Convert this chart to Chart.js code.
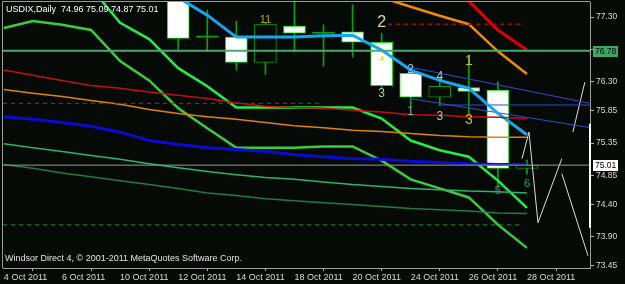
<!DOCTYPE html>
<html>
<head>
<meta charset="utf-8">
<script src="https://cdn.jsdelivr.net/npm/chart.js@4.4.1/dist/chart.umd.min.js"></script>
<style>
  html, body { margin: 0; padding: 0; background: #060a06; }
  #wrap { width: 625px; height: 284px; }
</style>
</head>
<body>
<div id="wrap"><canvas id="chart" width="625" height="284"></canvas></div>
<script>
/* USDIX Daily - MT4 style chart */

// one entry per daily bar (index = position on the x axis)
const dates = ['4 Oct 2011', '5 Oct 2011', '6 Oct 2011', '7 Oct 2011', '10 Oct 2011', '11 Oct 2011',
  '12 Oct 2011', '13 Oct 2011', '14 Oct 2011', '17 Oct 2011', '18 Oct 2011', '19 Oct 2011',
  '20 Oct 2011', '21 Oct 2011', '24 Oct 2011', '25 Oct 2011', '26 Oct 2011', '27 Oct 2011', '28 Oct 2011'];
const dateTicks = [0, 2, 4, 6, 8, 10, 12, 14, 16, 18];
const yTicks = [77.30, 76.80, 76.30, 75.85, 75.35, 74.85, 74.40, 73.90, 73.45];

// candles (earlier bars sit above the visible range)
const candleBars = [6, 7, 8, 9, 10, 11, 12, 13, 14, 15, 16, 17, 18];
const opens  = [77.75, 76.99, 76.99, 76.60, 77.16, 77.05, 77.07, 76.91, 76.43, 76.06, 76.21, 76.17, 74.96];
const highs  = [77.85, 77.41, 77.24, 77.22, 77.60, 77.18, 77.49, 77.05, 76.45, 76.36, 76.71, 76.30, 75.09];
const lows   = [76.77, 76.77, 76.48, 76.41, 76.76, 76.54, 76.68, 76.20, 75.92, 75.93, 75.78, 74.66, 74.87];
const closes = [76.97, 76.99, 76.60, 77.19, 77.05, 77.05, 76.91, 76.24, 76.06, 76.23, 76.15, 74.96, 75.01];

// indicator lines, one value per bar
const maRed    = [76.48, 76.40, 76.32, 76.24, 76.20, 76.14, 76.09, 76.04, 75.97, 75.92, 75.90, 75.89, 75.86, 75.83, 75.79, 75.78, 75.76, 75.75, 75.73];
const maOrange = [76.18, 76.12, 76.07, 76.01, 75.95, 75.87, 75.81, 75.76, 75.72, 75.67, 75.62, 75.59, 75.55, 75.53, 75.50, 75.47, 75.45, 75.44, 75.44];
const bandOrange = [null, null, null, null, null, null, null, null, null, null, null, null, null, 77.60, 77.46, 77.32, 77.19, 76.77, 76.42];
const bandRed    = [null, null, null, null, null, null, null, null, null, null, null, null, null, null, null, 77.95, 77.55, 77.10, 76.79];
const maSky   = [null, null, null, null, null, null, 77.60, 77.33, 76.99, 76.99, 76.99, 77.01, 77.02, 76.79, 76.48, 76.32, 76.20, 75.81, 75.48];
const maBlue  = [75.76, 75.72, 75.67, 75.61, 75.52, 75.39, 75.33, 75.28, 75.25, 75.22, 75.17, 75.14, 75.11, 75.10, 75.07, 75.05, 75.03, 75.02, 75.02];
const lime1   = [null, null, null, 77.75, 77.21, 76.96, 76.51, 76.23, 75.90, 75.90, 75.90, 75.90, 75.90, 75.73, 75.39, 75.24, 75.14, 74.77, 74.35];
const lime2   = [77.13, 77.24, 77.18, 77.10, 76.62, 76.32, 75.89, 75.58, 75.28, 75.28, 75.28, 75.30, 75.30, 75.08, 74.79, 74.65, 74.51, 74.09, 73.73];
const green1  = [75.34, 75.28, 75.22, 75.16, 75.10, 75.03, 74.97, 74.91, 74.86, 74.82, 74.79, 74.75, 74.71, 74.68, 74.65, 74.63, 74.61, 74.60, 74.58];
const green2  = [75.02, 74.96, 74.89, 74.83, 74.77, 74.71, 74.65, 74.58, 74.54, 74.49, 74.46, 74.43, 74.40, 74.37, 74.34, 74.32, 74.30, 74.27, 74.26];

// drawn objects: [bar, price] pairs
const trendUpper = [[13.81, 76.54], [20.17, 75.965]];
const trendLower = [[13.98, 76.04], [20.17, 75.59]];
const trendFlat  = [[15.0, 75.94], [20.17, 75.94]];
const forecastA  = [[17.83, 75.11], [18.07, 75.52], [18.38, 74.12], [19.20, 75.11]];
const forecastB  = [[19.20, 74.88], [20.10, 73.61]];
const forecastC  = [[19.58, 75.52], [19.99, 76.29]];
const levelGreen = [[-0.03, 76.78], [20.17, 76.78]];
const levelBid   = [[-0.03, 75.01], [20.17, 75.01]];
const dashRedLow = [[-0.03, 75.965], [10.9, 75.965]];
const dashRedTop = [[13.23, 77.19], [17.86, 77.19]];
const dashGreen  = [[-0.03, 74.087], [17.86, 74.087]];
const axisRange  = [75.65, 74.04];

// wave counts on the candles
const markBars   = [9, 13, 13, 13, 14, 14, 15, 15, 16, 16, 17, 18];
const markPrices = [77.25, 77.21, 76.65, 76.12, 76.49, 75.84, 76.38, 75.76, 76.62, 75.70, 74.61, 74.72];
const markTexts  = ['11', '2', '4', '3', '2', '1', '4', '3', '1', '3', '5', '6'];
const markKinds  = ['olive', 'pale', 'tiny', 'grey', 'grey', 'greyGreen', 'grey', 'grey', 'yellow', 'yellow', 'teal', 'teal'];

const FONT = "'Liberation Sans', Arial, sans-serif";
const markStyle = {
  olive:     { font: '11px ' + FONT, color: '#c0aa20' },
  pale:      { font: '16px ' + FONT, color: '#e6d98c' },
  tiny:      { font: '8px ' + FONT,  color: '#d8c800' },
  grey:      { font: '12px ' + FONT, color: '#b4c4c4' },
  greyGreen: { font: '12px ' + FONT, color: '#86b496' },
  yellow:    { font: '14px ' + FONT, color: '#d2bc10' },
  teal:      { font: '11px ' + FONT, color: '#14a878' }
};

const kind = k => closes[k] > opens[k] ? 'bull' : closes[k] < opens[k] ? 'bear' : 'doji';
const toPts = arr => arr.map((v, i) => ({ x: i, y: v }));
const toXY = arr => arr.map(p => ({ x: p[0], y: p[1] }));

function line(data, color, width, extra) {
  return Object.assign({
    type: 'line', data, borderColor: color, borderWidth: width,
    pointRadius: 0, tension: 0, fill: false, spanGaps: false, order: 1
  }, extra || {});
}

const mt4Plugin = {
  id: 'mt4',
  beforeDraw(chart) {
    const c = chart.ctx;
    c.save();
    c.fillStyle = '#060a06';
    c.fillRect(0, 0, chart.width, chart.height);
    c.restore();
  },
  afterDatasetsDraw(chart) {
    const { ctx: c, scales: { x, y }, chartArea: a } = chart;
    c.save();
    c.beginPath();
    c.rect(a.left, a.top, a.right - a.left, a.bottom - a.top);
    c.clip();
    c.textAlign = 'center';
    c.textBaseline = 'middle';
    markTexts.forEach((t, k) => {
      const st = markStyle[markKinds[k]];
      c.font = st.font;
      c.fillStyle = st.color;
      c.fillText(t, x.getPixelForValue(markBars[k]), y.getPixelForValue(markPrices[k]));
    });
    c.restore();
  },
  afterDraw(chart) {
    const { ctx: c, scales: { y }, chartArea: a } = chart;
    c.save();
    // frame left / top
    c.strokeStyle = '#9a9a9a';
    c.lineWidth = 1;
    c.beginPath();
    c.moveTo(a.left - 0.5, a.bottom);
    c.lineTo(a.left - 0.5, a.top - 0.5);
    c.lineTo(a.right, a.top - 0.5);
    c.stroke();
    // bright part of the price axis
    c.strokeStyle = '#ffffff';
    c.lineWidth = 2;
    c.beginPath();
    c.moveTo(a.right, y.getPixelForValue(axisRange[0]));
    c.lineTo(a.right, y.getPixelForValue(axisRange[1]));
    c.stroke();
    // price boxes
    c.font = '8.5px ' + FONT;
    c.textAlign = 'left';
    c.textBaseline = 'middle';
    [[levelGreen[0][1], '#3ca864'], [levelBid[0][1], '#ffffff']].forEach(([p, bg]) => {
      const py = Math.round(y.getPixelForValue(p));
      c.fillStyle = bg;
      c.fillRect(a.right + 3, py - 5, 25, 11);
      c.fillStyle = '#000000';
      c.fillText(p.toFixed(2), a.right + 5, py + 0.5);
    });
    // header and footer
    c.font = '9px ' + FONT;
    c.fillStyle = '#ffffff';
    c.fillText('USDIX,Daily  74.96 75.09 74.87 75.01', a.left + 3, 10);
    c.fillStyle = '#e4e4e4';
    c.fillText('Windsor Direct 4, \u00a9 2001-2011 MetaQuotes Software Corp.', a.left + 2, 259);
    c.restore();
  }
};

Chart.defaults.font.family = FONT;
Chart.defaults.font.size = 8.5;

new Chart(document.getElementById('chart'), {
  type: 'line',
  data: {
    datasets: [
      // candles
      {
        type: 'bar', order: 9, grouped: false, barThickness: 1,
        data: candleBars.map((b, k) => ({ x: b, y: [lows[k], highs[k]] })),
        backgroundColor: '#0aa00a', borderWidth: 0
      },
      {
        type: 'bar', order: 8, grouped: false, barThickness: 22, minBarLength: 1,
        data: candleBars.map((b, k) => ({ x: b, y: [opens[k], closes[k]] })),
        backgroundColor: ctx => ({ bull: '#060a06', bear: '#ffffff', doji: '#0aa00a' })[kind(ctx.dataIndex)],
        borderColor: ctx => kind(ctx.dataIndex) === 'bear' ? '#10e010' : '#0a9a0a',
        borderWidth: ctx => kind(ctx.dataIndex) === 'doji' ? 0 : 1,
        borderSkipped: false
      },
      // levels
      line(toXY(levelGreen), '#4aaa6e', 2),
      line(toXY(levelBid), '#9a9a9a', 1),
      line(toXY(dashRedLow), '#d01212', 1, { borderDash: [4, 4] }),
      line(toXY(dashRedTop), '#a01010', 1.5, { borderDash: [4, 4] }),
      line(toXY(dashGreen), '#1a961a', 1, { borderDash: [4, 4] }),
      // moving averages / bands
      line(toPts(green2), '#1e7a46', 1.5),
      line(toPts(green1), '#2cb468', 1.5),
      line(toPts(maRed), '#c01010', 1.5),
      line(toPts(maOrange), '#e08400', 1.5),
      line(toPts(bandOrange), '#f08c00', 2.5),
      line(toPts(bandRed), '#e00000', 3),
      line(toPts(maBlue), '#0a0ad2', 3),
      line(toPts(lime2), '#3ccc3c', 2.5),
      line(toPts(lime1), '#22ee44', 2.5),
      line(toPts(maSky), '#12a8f4', 3),
      // trend lines and forecast
      line(toXY(trendUpper), '#2a4ed6', 1),
      line(toXY(trendLower), '#2a4ed6', 1),
      line(toXY(trendFlat), '#2a4ed6', 1),
      line(toXY(forecastA), '#dcdcdc', 1),
      line(toXY(forecastB), '#dcdcdc', 1),
      line(toXY(forecastC), '#dcdcdc', 1)
    ]
  },
  options: {
    responsive: false,
    animation: false,
    events: [],
    layout: { padding: { left: 3, top: 2, right: 0, bottom: 0 } },
    plugins: { legend: { display: false }, tooltip: { enabled: false } },
    scales: {
      x: {
        type: 'linear', min: -0.03, max: 20.17, offset: false,
        afterBuildTicks: s => { s.ticks = dateTicks.map(v => ({ value: v })); },
        afterFit: s => { s.height = 16; s.paddingLeft = 0; s.paddingRight = 0; },
        ticks: {
          autoSkip: false, maxRotation: 0, align: 'start', padding: 1,
          color: '#d8d8d8', font: { size: 9 }, callback: v => dates[v]
        },
        grid: { drawOnChartArea: false, tickLength: 3, color: '#b0b0b0' },
        border: { display: true, color: '#a0a0a0' }
      },
      y: {
        position: 'right', min: 73.419, max: 77.533,
        afterBuildTicks: s => { s.ticks = yTicks.map(v => ({ value: v })); },
        afterFit: s => { s.width = 35; s.paddingTop = 0; s.paddingBottom = 0; },
        ticks: { padding: 2, color: '#d8d8d8', callback: v => v.toFixed(2) },
        grid: { drawOnChartArea: false, tickLength: 4, color: '#b0b0b0' },
        border: { display: true, color: '#a0a0a0' }
      }
    }
  },
  plugins: [mt4Plugin]
});
</script>
</body>
</html>
